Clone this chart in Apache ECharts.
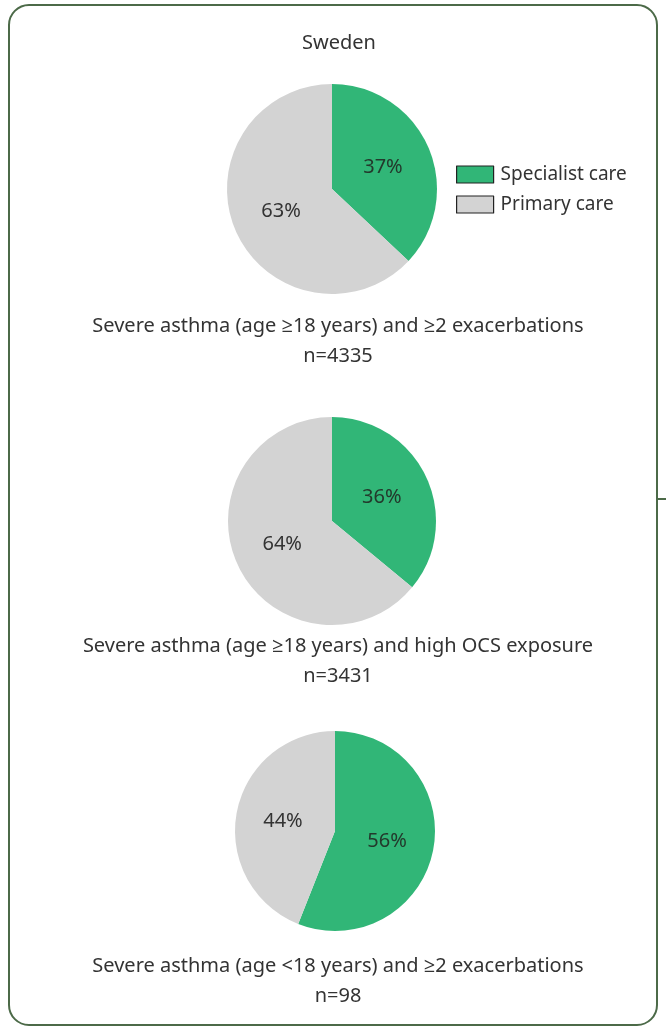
<!DOCTYPE html>
<html>
<head>
<meta charset="utf-8">
<script src="https://cdn.jsdelivr.net/npm/echarts@6/dist/echarts.min.js"></script>
<style>
  html, body { margin: 0; padding: 0; background: #ffffff; }
  #chart { width: 666px; height: 1030px; }
</style>
</head>
<body>
<div id="chart"></div>
<script>
// Share of patients treated in specialist vs primary care, Sweden
const country = 'Sweden';
const careTypes = ['Specialist care', 'Primary care'];
const groupLabels = [
  'Severe asthma (age \u226518 years) and \u22652 exacerbations',
  'Severe asthma (age \u226518 years) and high OCS exposure',
  'Severe asthma (age <18 years) and \u22652 exacerbations'
];
const groupSizes = [4335, 3431, 98];
const specialistPct = [37, 36, 56];
const primaryPct = [63, 64, 44];

const GREEN = '#31b677';
const GREY = '#d3d3d3';
const FONT = '"Noto Sans", "Open Sans", sans-serif';

const pieLayout = [
  { center: [332, 189], radius: 105, textTop: 311 },
  { center: [332, 521], radius: 104, textTop: 631 },
  { center: [335, 831], radius: 100, textTop: 951 }
];

const series = pieLayout.map((p, i) => ({
  type: 'pie',
  center: p.center,
  radius: p.radius,
  startAngle: 90,
  clockwise: true,
  silent: true,
  animation: false,
  label: {
    show: true,
    position: 'inside',
    formatter: '{c}%',
    fontFamily: FONT,
    fontSize: 20,
    color: '#333333'
  },
  labelLine: { show: false },
  itemStyle: { borderWidth: 0 },
  data: [
    { name: careTypes[0], value: specialistPct[i], itemStyle: { color: GREEN }, label: { color: '#23392c' } },
    { name: careTypes[1], value: primaryPct[i], itemStyle: { color: GREY } }
  ]
}));

const titles = [{
  text: country,
  left: 334,
  top: 28,
  textAlign: 'center',
  textStyle: { fontFamily: FONT, fontSize: 20, fontWeight: 'normal', color: '#333333' }
}].concat(pieLayout.map((p, i) => ({
  text: groupLabels[i],
  subtext: 'n=' + groupSizes[i],
  left: 333,
  top: p.textTop,
  textAlign: 'center',
  itemGap: 10,
  textStyle: { fontFamily: FONT, fontSize: 20, fontWeight: 'normal', color: '#333333' },
  subtextStyle: { fontFamily: FONT, fontSize: 20, color: '#333333' }
})));

const chart = echarts.init(document.getElementById('chart'), null, { renderer: 'canvas' });
chart.setOption({
  backgroundColor: '#ffffff',
  animation: false,
  title: titles,
  legend: {
    data: careTypes,
    orient: 'vertical',
    left: 451,
    top: 160,
    itemWidth: 37,
    itemHeight: 17,
    itemGap: 11,
    icon: 'rect',
    selectedMode: false,
    textStyle: { fontFamily: FONT, fontSize: 19, color: '#333333', padding: [0, 0, 0, 2] },
    itemStyle: { borderColor: '#222222', borderWidth: 1.2 }
  },
  graphic: [
    {
      type: 'rect',
      shape: { x: 9, y: 5, width: 648, height: 1020, r: 20 },
      style: { fill: 'none', stroke: '#4c6a48', lineWidth: 2 },
      silent: true
    },
    {
      type: 'line',
      shape: { x1: 657, y1: 499, x2: 666, y2: 499 },
      style: { stroke: '#4c6a48', lineWidth: 2 },
      silent: true
    }
  ],
  series: series
});
</script>
</body>
</html>
